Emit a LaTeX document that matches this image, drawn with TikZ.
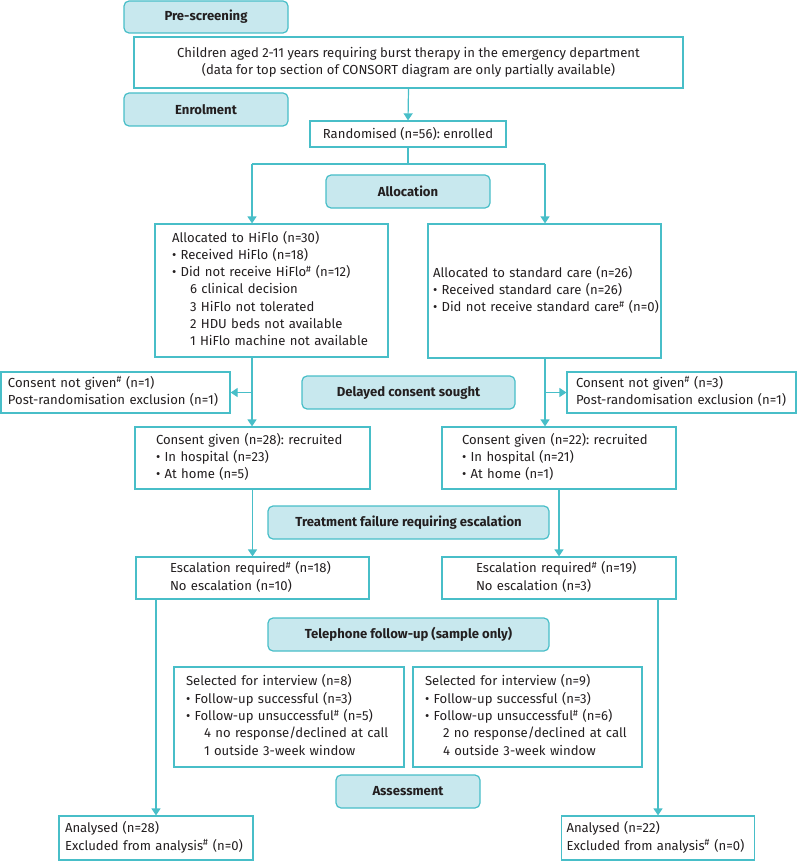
\documentclass[tikz,border=0pt]{standalone}
\usepackage{fontspec}
\setmainfont{Fira Sans}
\usetikzlibrary{arrows.meta}
\definecolor{tealc}{RGB}{72,190,200}
\definecolor{lightc}{RGB}{200,232,238}
\definecolor{txt}{RGB}{35,31,32}
\newcommand{\myfs}{\fontsize{13.1}{17.3}\selectfont\frenchspacing}
\newcommand{\hsh}{\textsuperscript{\#}}
\newcommand{\tl}[1]{\begin{tabular}{@{}l@{}}#1\end{tabular}}
\begin{document}
\begin{tikzpicture}[x=1pt,y=-1pt,
  box/.style={draw=tealc,line width=1.2pt,fill=white,inner ysep=0pt,align=left,text=txt,font=\myfs},
  phase/.style={draw=tealc,line width=1.2pt,fill=lightc,rounded corners=5pt,inner sep=0pt,align=center,text=txt,font=\myfs\bfseries},
  arr/.style={draw=tealc,line width=1.2pt,-{Triangle[width=9pt,length=7pt]}},
  ln/.style={draw=tealc,line width=1.2pt}]
\useasboundingbox (0,0) rectangle (798,861);

\node[phase,minimum width=164pt,minimum height=32pt] (pre) at (206,17) {Pre-screening};
\node[box,align=center,inner xsep=0pt,minimum width=549pt,minimum height=51pt] (children) at (408.5,62.5)
  {Children aged 2-11 years requiring burst therapy in the emergency department\\(data for top section of CONSORT diagram are only partially available)};
\node[phase,minimum width=164pt,minimum height=33pt] (enrol) at (206,109.5) {Enrolment};
\node[box,align=center,inner xsep=0pt,minimum width=196pt,minimum height=26pt] (rand) at (408,134) {Randomised (n=56): enrolled};
\node[phase,minimum width=164pt,minimum height=33pt] (alloc) at (408,191.5) {Allocation};

\node[box,text width=199pt,inner xsep=17pt,minimum height=133pt] (leftalloc) at (271.5,290.5)
  {\tl{Allocated to HiFlo (n=30)\\
   • Received HiFlo (n=18)\\
   • Did not receive HiFlo\hsh{} (n=12)\\
   \hspace*{18pt}6 clinical decision\\
   \hspace*{18pt}3 HiFlo not tolerated\\
   \hspace*{18pt}2 HDU beds not available\\
   \hspace*{18pt}1 HiFlo machine not available}};
\node[box,text width=223pt,inner xsep=5pt,minimum height=134pt] (rightalloc) at (544.5,291)
  {\tl{Allocated to standard care (n=26)\\
   • Received standard care (n=26)\\
   • Did not receive standard care\hsh{} (n=0)}};

\node[box,text width=215pt,inner xsep=7pt,minimum height=41pt] (cngl) at (115.5,392.5)
  {\tl{Consent not given\hsh{} (n=1)\\Post-randomisation exclusion (n=1)}};
\node[phase,minimum width=213pt,minimum height=33pt] (delayed) at (408.5,392.5) {Delayed consent sought};
\node[box,text width=211pt,inner xsep=9pt,minimum height=41pt] (cngr) at (681.5,392.5)
  {\tl{Consent not given\hsh{} (n=3)\\Post-randomisation exclusion (n=1)}};

\node[box,text width=193pt,inner xsep=21pt,minimum height=62pt] (cgl) at (252.5,458)
  {\tl{Consent given (n=28): recruited\\• In hospital (n=23)\\• At home (n=5)}};
\node[box,text width=194pt,inner xsep=20pt,minimum height=62pt] (cgr) at (559,458)
  {\tl{Consent given (n=22): recruited\\• In hospital (n=21)\\• At home (n=1)}};

\node[phase,minimum width=281pt,minimum height=33pt] (treat) at (408.5,522.5) {Treatment failure requiring escalation};

\node[box,text width=165pt,inner xsep=34pt,minimum height=42pt] (escl) at (252.5,578)
  {\tl{Escalation required\hsh{} (n=18)\\No escalation (n=10)}};
\node[box,text width=166pt,inner xsep=34pt,minimum height=42pt] (escr) at (559,578)
  {\tl{Escalation required\hsh{} (n=19)\\No escalation (n=3)}};

\node[phase,minimum width=281pt,minimum height=33pt] (tel) at (408.5,634.5) {Telephone follow-up (sample only)};

\node[box,text width=206pt,inner xsep=12pt,minimum height=100pt] (sell) at (289,717)
  {\tl{Selected for interview (n=8)\\
   • Follow-up successful (n=3)\\
   • Follow-up unsuccessful\hsh{} (n=5)\\
   \hspace*{18pt}4 no response/declined at call\\
   \hspace*{18pt}1 outside 3-week window}};
\node[box,text width=205pt,inner xsep=12pt,minimum height=100pt] (selr) at (527.5,717)
  {\tl{Selected for interview (n=9)\\
   • Follow-up successful (n=3)\\
   • Follow-up unsuccessful\hsh{} (n=6)\\
   \hspace*{18pt}2 no response/declined at call\\
   \hspace*{18pt}4 outside 3-week window}};

\node[phase,minimum width=144pt,minimum height=33pt] (assess) at (408,791.5) {Assessment};

\node[box,text width=182pt,inner xsep=6pt,minimum height=44pt] (anl) at (156,838)
  {\tl{Analysed (n=28)\\Excluded from analysis\hsh{} (n=0)}};
\node[box,text width=183pt,inner xsep=5pt,minimum height=44pt] (anr) at (658,838)
  {\tl{Analysed (n=22)\\Excluded from analysis\hsh{} (n=0)}};

% connectors
\draw[arr] (children.south) -- (rand.north);
\coordinate (spl) at (252,164);
\coordinate (spr) at (545,164);
\draw[ln] (rand.south) -- (rand.south |- spl);
\draw[ln] (spl) -- (spr);
\draw[arr] (spl) -- (spl |- leftalloc.north);
\draw[arr] (spr) -- (spr |- rightalloc.north);
\draw[arr] (spl |- leftalloc.south) -- (spl |- cgl.north);
\draw[arr] (spl |- cngl.east) -- (cngl.east);
\draw[arr] (spr |- rightalloc.south) -- (spr |- cgr.north);
\draw[arr] (spr |- cngr.west) -- (cngr.west);
\draw[arr] (cgl.south) -- (escl.north);
\draw[arr] (cgr.south) -- (escr.north);
\draw[arr] (anl.north |- escl.south) -- (anl.north);
\draw[arr] (anr.north |- escr.south) -- (anr.north);
\end{tikzpicture}
\end{document}
